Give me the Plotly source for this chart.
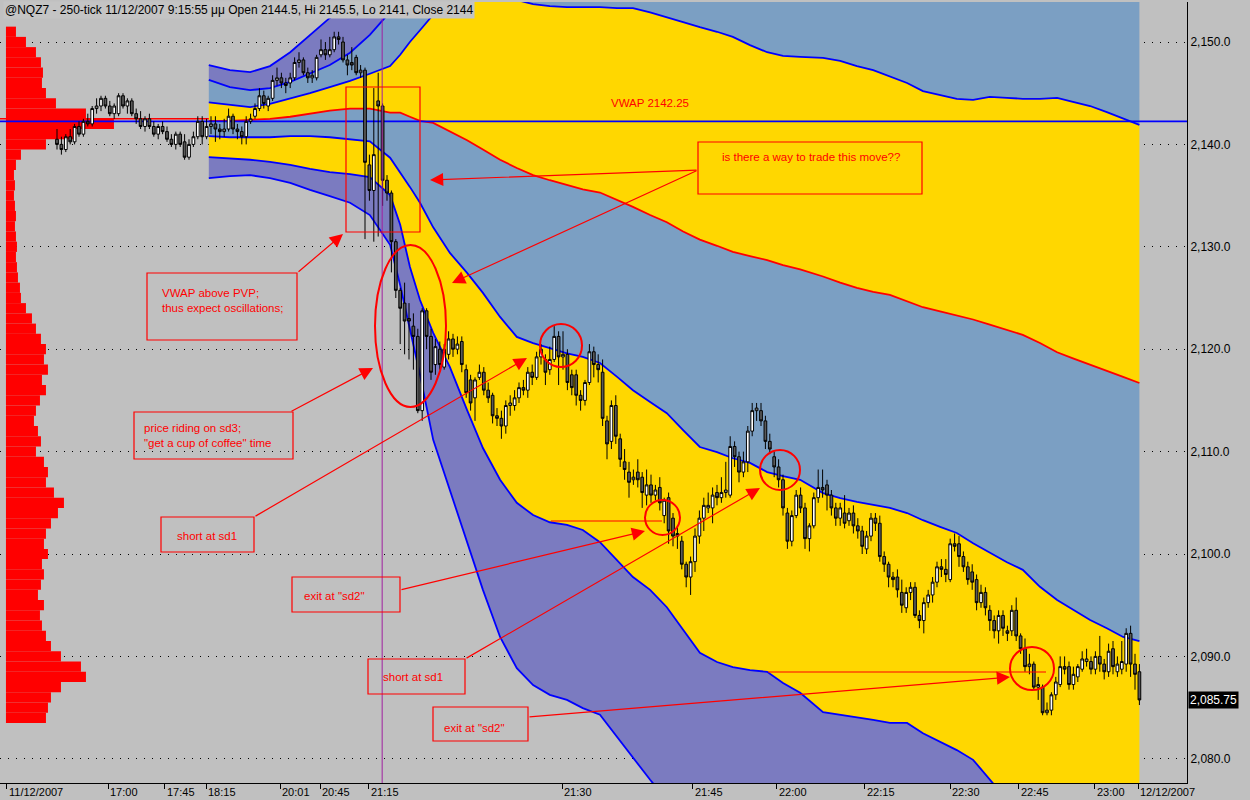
import plotly.graph_objects as go

# ---------------- data ----------------
# 250-tick bars: (open, high, low, close)
ohlc = [
    (2140.5, 2141.5, 2139.5, 2140.0), (2140.0, 2140.75, 2139.0, 2139.5), (2139.5, 2141.0, 2139.25, 2140.75),
    (2140.75, 2141.5, 2140.0, 2140.25), (2140.25, 2142.0, 2140.0, 2141.75), (2141.75, 2142.25, 2140.75, 2141.0),
    (2141.0, 2142.5, 2140.75, 2142.25), (2142.25, 2143.0, 2141.75, 2142.0), (2142.0, 2143.75, 2141.75, 2143.5),
    (2143.5, 2144.5, 2143.0, 2143.75), (2143.75, 2144.75, 2143.25, 2144.5), (2144.5, 2144.75, 2143.5, 2143.75),
    (2143.75, 2144.25, 2142.75, 2143.0), (2143.0, 2144.0, 2142.5, 2143.75), (2143.0, 2145.0, 2142.75, 2144.75),
    (2144.75, 2145.0, 2143.5, 2143.75), (2143.75, 2144.5, 2143.0, 2144.25), (2144.25, 2144.5, 2142.75, 2143.0),
    (2143.0, 2143.5, 2142.0, 2142.5), (2142.5, 2143.25, 2141.5, 2141.75), (2141.75, 2142.75, 2141.25, 2142.5),
    (2142.5, 2143.0, 2141.5, 2141.75), (2141.75, 2142.25, 2140.75, 2141.0), (2141.0, 2142.0, 2140.5, 2141.75),
    (2141.75, 2142.25, 2141.0, 2141.25), (2141.25, 2141.75, 2140.25, 2140.5), (2140.5, 2141.0, 2139.75, 2140.0),
    (2140.0, 2141.25, 2139.5, 2141.0), (2141.0, 2141.25, 2139.75, 2140.0), (2140.25, 2141.0, 2138.5, 2138.75),
    (2138.75, 2140.5, 2138.5, 2140.0), (2140.0, 2141.25, 2139.75, 2140.75), (2140.75, 2142.75, 2140.5, 2142.25),
    (2142.25, 2142.75, 2140.0, 2140.75), (2140.75, 2142.5, 2140.5, 2141.75),
    # session 35..
    (2141.75, 2142.75, 2141.0, 2142.0), (2142.0, 2142.75, 2140.25, 2141.5), (2141.5, 2142.0, 2140.5, 2141.25),
    (2141.25, 2142.5, 2140.75, 2141.5), (2141.5, 2143.5, 2141.25, 2142.75), (2142.75, 2143.0, 2141.0, 2141.5),
    (2141.5, 2142.0, 2140.5, 2141.25), (2141.25, 2141.75, 2140.0, 2140.75), (2140.75, 2142.75, 2140.0, 2142.25),
    (2142.25, 2143.0, 2142.0, 2142.5), (2142.75, 2144.0, 2142.5, 2143.5), (2143.5, 2145.5, 2143.25, 2144.75),
    (2144.75, 2145.25, 2143.5, 2144.0), (2143.75, 2144.75, 2143.25, 2144.5), (2144.5, 2146.75, 2144.25, 2146.25),
    (2146.25, 2147.5, 2145.75, 2146.5), (2146.5, 2147.0, 2145.5, 2146.0), (2146.0, 2146.5, 2145.0, 2145.75),
    (2146.0, 2147.0, 2145.5, 2146.5), (2146.5, 2148.5, 2146.25, 2148.0), (2148.0, 2149.0, 2147.5, 2148.25),
    (2148.25, 2148.5, 2146.75, 2147.0), (2147.0, 2147.5, 2146.0, 2146.5), (2146.5, 2147.25, 2146.0, 2146.75),
    (2146.5, 2148.75, 2146.25, 2148.5), (2148.75, 2150.25, 2148.5, 2149.25), (2149.25, 2150.0, 2148.25, 2148.75),
    (2148.75, 2150.5, 2148.5, 2149.25), (2149.25, 2151.0, 2149.0, 2150.5), (2150.5, 2151.0, 2149.75, 2150.25),
    (2150.0, 2150.5, 2148.0, 2148.25), (2148.25, 2148.75, 2146.75, 2147.75), (2148.0, 2149.5, 2147.25, 2147.75),
    (2148.5, 2148.75, 2146.75, 2147.0), (2147.0, 2147.75, 2146.5, 2147.25),
    # the drop
    (2147.25, 2147.5, 2130.75, 2138.25), (2138.0, 2139.0, 2134.5, 2135.5), (2135.5, 2145.5, 2130.5, 2139.0),
    (2144.25, 2147.0, 2131.0, 2143.75), (2143.75, 2144.0, 2134.0, 2136.5), (2136.5, 2137.0, 2134.5, 2135.25),
    (2135.25, 2135.5, 2127.5, 2130.5), (2130.5, 2130.75, 2125.0, 2125.75), (2125.75, 2126.0, 2120.5, 2124.0),
    (2124.5, 2126.5, 2119.5, 2122.75), (2123.0, 2124.5, 2119.0, 2122.75), (2122.25, 2123.5, 2118.0, 2121.25),
    (2121.25, 2122.0, 2113.75, 2114.0), (2114.0, 2124.0, 2113.0, 2123.75), (2123.75, 2124.0, 2120.0, 2121.25),
    (2121.25, 2122.0, 2117.0, 2117.75), (2118.5, 2121.0, 2117.5, 2120.25), (2120.0, 2120.75, 2118.0, 2118.5),
    (2118.25, 2120.5, 2118.0, 2120.0), (2119.5, 2121.75, 2119.0, 2121.0), (2121.0, 2121.5, 2119.25, 2120.0),
    (2120.0, 2121.25, 2119.5, 2120.5), (2120.75, 2121.25, 2117.75, 2118.5), (2118.0, 2118.5, 2115.25, 2115.75),
    (2117.0, 2117.5, 2114.0, 2114.75), (2115.25, 2117.25, 2113.0, 2117.0), (2117.25, 2118.5, 2117.0, 2117.75),
    (2117.75, 2118.25, 2115.5, 2116.0), (2116.0, 2116.75, 2114.75, 2115.25), (2115.5, 2115.75, 2112.75, 2113.5),
    (2113.5, 2114.25, 2112.5, 2113.25), (2113.25, 2114.0, 2111.25, 2112.5), (2112.5, 2115.0, 2111.75, 2114.5),
    (2114.5, 2115.5, 2113.5, 2114.75), (2114.5, 2116.0, 2114.0, 2115.25), (2115.25, 2116.75, 2114.75, 2116.25),
    (2116.25, 2117.0, 2115.5, 2116.0), (2116.0, 2118.25, 2115.25, 2117.75), (2117.75, 2118.5, 2116.5, 2117.25),
    (2117.25, 2119.75, 2117.0, 2119.25), (2119.25, 2120.5, 2118.5, 2120.0), (2119.0, 2119.5, 2116.5, 2117.75),
    (2118.0, 2120.25, 2117.5, 2119.0), (2119.0, 2122.25, 2118.75, 2121.25), (2121.25, 2121.75, 2116.5, 2119.25),
    (2119.25, 2121.75, 2118.0, 2119.5), (2119.5, 2120.0, 2116.0, 2116.75), (2117.5, 2118.0, 2115.5, 2116.25),
    (2117.5, 2118.0, 2114.5, 2115.5), (2115.5, 2116.0, 2114.0, 2115.0), (2115.0, 2117.0, 2114.5, 2116.75),
    (2116.75, 2120.5, 2116.5, 2119.75), (2119.75, 2120.25, 2117.25, 2118.5), (2118.5, 2119.5, 2116.75, 2118.0),
    (2117.75, 2119.0, 2112.5, 2113.25), (2113.0, 2113.5, 2109.25, 2110.75), (2111.0, 2115.0, 2110.25, 2114.5),
    (2114.5, 2115.5, 2110.75, 2111.5), (2111.25, 2111.75, 2108.5, 2109.25), (2109.0, 2110.25, 2107.25, 2108.25),
    (2108.0, 2109.0, 2105.5, 2107.0), (2107.25, 2108.25, 2106.75, 2107.5), (2108.0, 2109.25, 2106.5, 2107.25),
    (2107.5, 2108.0, 2104.5, 2106.0), (2105.75, 2108.25, 2104.75, 2106.75), (2106.75, 2107.75, 2105.0, 2105.75),
    (2105.75, 2106.75, 2105.25, 2106.25), (2106.5, 2107.5, 2104.25, 2105.0), (2103.75, 2105.5, 2103.0, 2105.25),
    (2105.5, 2106.0, 2101.0, 2102.25), (2103.5, 2104.0, 2100.75, 2101.75), (2101.75, 2102.75, 2100.5, 2102.0),
    (2101.25, 2101.75, 2098.5, 2099.0), (2099.0, 2099.25, 2096.75, 2097.75), (2097.75, 2099.75, 2096.0, 2099.25),
    (2099.25, 2102.5, 2098.25, 2101.75), (2101.75, 2104.25, 2101.0, 2103.5), (2103.5, 2105.5, 2102.25, 2104.75),
    (2104.5, 2106.0, 2104.0, 2104.75), (2104.5, 2106.5, 2103.0, 2105.75), (2106.0, 2106.75, 2104.75, 2105.5),
    (2105.5, 2107.5, 2105.0, 2106.0), (2106.0, 2109.0, 2105.5, 2106.25), (2105.75, 2111.5, 2105.5, 2110.5),
    (2110.5, 2111.0, 2108.5, 2109.5), (2109.5, 2110.0, 2107.0, 2108.0), (2108.0, 2110.0, 2107.5, 2109.0),
    (2109.0, 2112.5, 2108.0, 2112.0), (2112.0, 2114.75, 2111.5, 2114.0), (2114.0, 2114.75, 2113.0, 2114.25),
    (2114.0, 2114.75, 2112.5, 2113.0), (2113.0, 2113.5, 2110.25, 2111.0), (2111.0, 2111.75, 2109.75, 2110.25),
    (2109.5, 2110.0, 2107.5, 2108.5), (2108.5, 2109.25, 2106.5, 2107.25), (2107.25, 2107.75, 2103.75, 2104.5),
    (2104.0, 2104.5, 2100.5, 2101.25), (2101.25, 2104.25, 2100.75, 2103.75), (2103.75, 2106.25, 2103.5, 2105.75),
    (2105.75, 2106.5, 2104.0, 2104.5), (2104.5, 2105.0, 2100.5, 2101.5), (2101.5, 2103.0, 2100.25, 2102.75),
    (2102.75, 2106.0, 2102.5, 2105.5), (2105.5, 2108.25, 2105.0, 2106.5), (2106.5, 2108.25, 2105.5, 2106.25),
    (2106.75, 2107.25, 2104.25, 2105.75), (2105.75, 2106.25, 2103.75, 2104.5), (2104.5, 2105.0, 2102.75, 2103.5),
    (2103.5, 2105.0, 2102.75, 2104.5), (2104.0, 2105.75, 2102.5, 2103.0), (2103.25, 2104.5, 2102.75, 2104.0),
    (2104.0, 2104.75, 2102.0, 2102.75), (2102.75, 2103.5, 2101.5, 2102.25), (2102.25, 2102.75, 2100.0, 2100.75),
    (2100.5, 2102.25, 2100.0, 2101.75), (2101.75, 2104.0, 2101.25, 2103.5), (2103.5, 2104.0, 2102.25, 2103.0),
    (2103.0, 2103.75, 2099.25, 2099.75), (2099.75, 2100.25, 2098.25, 2099.0), (2099.0, 2099.25, 2096.75, 2097.75),
    (2097.75, 2098.25, 2096.75, 2097.5), (2097.75, 2098.5, 2095.75, 2096.5), (2096.25, 2097.5, 2094.25, 2095.0),
    (2094.75, 2096.75, 2094.25, 2096.25), (2096.25, 2097.25, 2095.5, 2096.75), (2096.75, 2097.25, 2093.75, 2094.0),
    (2094.0, 2094.5, 2092.75, 2093.5), (2093.5, 2095.75, 2092.25, 2095.25), (2095.25, 2096.5, 2094.75, 2096.0),
    (2096.0, 2097.75, 2095.25, 2097.25), (2097.25, 2099.25, 2096.75, 2098.75), (2098.75, 2099.5, 2097.75, 2098.5),
    (2098.5, 2099.5, 2097.25, 2098.0), (2097.5, 2101.5, 2097.25, 2101.0), (2101.0, 2102.0, 2100.25, 2100.75),
    (2101.0, 2101.75, 2098.75, 2099.75), (2099.75, 2100.25, 2098.25, 2098.75), (2098.75, 2099.25, 2097.0, 2097.5),
    (2098.25, 2099.0, 2096.5, 2097.25), (2097.5, 2098.0, 2094.5, 2095.25), (2095.25, 2097.0, 2094.75, 2096.25),
    (2096.25, 2096.75, 2094.0, 2094.75), (2094.5, 2095.0, 2092.5, 2093.5), (2093.5, 2094.0, 2091.75, 2092.5),
    (2092.5, 2094.5, 2091.25, 2094.0), (2094.0, 2094.5, 2092.0, 2092.75), (2092.5, 2093.0, 2091.5, 2092.25),
    (2092.5, 2095.0, 2092.0, 2094.5), (2094.5, 2095.75, 2091.5, 2092.0), (2092.0, 2092.25, 2090.25, 2090.75),
    (2090.75, 2091.75, 2088.5, 2089.0), (2089.0, 2090.25, 2088.25, 2089.25), (2089.25, 2089.5, 2086.75, 2087.0),
    (2087.0, 2088.0, 2085.75, 2087.25), (2087.0, 2087.25, 2084.25, 2084.5), (2084.5, 2085.5, 2084.25, 2084.75),
    (2084.75, 2086.5, 2084.25, 2086.25), (2086.25, 2088.0, 2085.75, 2087.5), (2087.25, 2090.0, 2087.0, 2089.0),
    (2089.0, 2090.0, 2088.25, 2088.75), (2089.0, 2089.5, 2086.75, 2087.25), (2087.25, 2089.0, 2086.75, 2088.25),
    (2088.0, 2089.25, 2087.5, 2089.0), (2088.75, 2090.5, 2088.5, 2089.75), (2089.5, 2090.75, 2089.0, 2089.75),
    (2089.5, 2090.0, 2088.25, 2088.75), (2088.75, 2090.5, 2088.25, 2090.0), (2090.0, 2092.0, 2088.5, 2089.25),
    (2089.25, 2089.75, 2087.75, 2088.5), (2088.5, 2091.25, 2088.0, 2090.5), (2090.75, 2091.5, 2088.25, 2089.0),
    (2088.5, 2090.0, 2088.0, 2089.25), (2088.75, 2091.5, 2088.25, 2089.5), (2089.25, 2092.75, 2088.5, 2092.25),
    (2092.25, 2093.0, 2088.0, 2089.25), (2089.25, 2090.25, 2086.75, 2088.25), (2088.5, 2089.25, 2085.25, 2085.75),
]

# VWAP bands sampled at bar positions
band_x = [34.5, 39.3, 43.9, 48.4, 53.0, 57.5, 62.0, 66.6, 71.1, 75.7, 78.0, 80.2, 82.5, 85.5, 89.3, 93.2,
          96.8, 100.7, 104.5, 108.2, 112.0, 115.9, 119.5, 123.4, 127.3, 130.9, 134.8, 138.6, 142.3, 146.1,
          150.0, 153.6, 157.5, 161.4, 165.0, 168.9, 174.1, 178.0, 181.8, 185.5, 189.3, 193.2, 196.8, 200.7,
          204.5, 208.2, 212.0, 215.9, 219.5, 223.4, 227.3, 230.9, 234.8, 238.6, 242.3, 246.0]
vwap = [2142.3, 2142.3, 2142.4, 2142.5, 2142.7, 2143.0, 2143.3, 2143.5, 2143.5, 2143.1, 2143.1, 2142.7, 2142.3,
        2142.1, 2141.3, 2140.4, 2139.5, 2138.5, 2137.7, 2137.0, 2136.5, 2136.0, 2135.6, 2135.3, 2134.6, 2133.9,
        2133.1, 2132.4, 2131.5, 2130.7, 2130.1, 2129.5, 2129.1, 2128.7, 2128.2, 2127.8, 2127.1, 2126.5, 2126.0,
        2125.6, 2125.3, 2124.7, 2124.1, 2123.7, 2123.3, 2122.9, 2122.4, 2121.9, 2121.4, 2120.6, 2119.7, 2119.1,
        2118.5, 2117.9, 2117.3, 2116.7]
upper1 = [2144.1, 2143.85, 2143.65, 2143.95, 2144.45, 2145.0, 2145.6, 2146.2, 2146.9, 2147.65, 2148.75, 2150.0,
          2151.15, 2152.65, 2154.6, 2155.1, 2155.1, 2154.6, 2154.1, 2153.7, 2153.5, 2153.4, 2153.4, 2153.4, 2153.3,
          2153.3, 2152.9, 2152.45, 2151.95, 2151.45, 2151.0, 2150.5, 2149.7, 2149.0, 2148.65, 2148.55, 2148.45,
          2148.15, 2147.65, 2147.25, 2146.6, 2146.0, 2145.2, 2144.8, 2144.45, 2144.35, 2144.65, 2144.55, 2144.45,
          2144.45, 2144.55, 2144.15, 2143.75, 2143.15, 2142.5, 2141.9]
upper2 = [2146.3, 2145.6, 2145.3, 2145.5, 2146.1, 2146.9, 2147.75, 2148.95, 2150.7, 2152.95, 2154.1, 2155.3,
          2156.4, 2157.6, 2158.7, 2159.5, 2160.1, 2160.5, 2160.8, 2161.0, 2161.1, 2161.2, 2161.1, 2161.0, 2160.9,
          2160.8, 2160.6, 2160.3, 2160.0, 2159.6, 2159.2, 2158.9, 2158.6, 2158.3, 2158.1, 2157.9, 2157.7, 2157.5,
          2157.2, 2156.9, 2156.6, 2156.3, 2156.0, 2155.8, 2155.6, 2155.5, 2155.6, 2155.6, 2155.5, 2155.5, 2155.4,
          2155.2, 2155.0, 2154.8, 2154.5, 2154.3]
upper3 = [2147.75, 2147.25, 2147.05, 2147.65, 2149.0, 2150.7, 2152.35, 2153.9, 2155.6, 2157.3, 2158.2, 2159.0,
          2159.8, 2160.8, 2162.0, 2163.0, 2163.8, 2164.4, 2164.8, 2165.1, 2165.3, 2165.4, 2165.4, 2165.3, 2165.2,
          2165.1, 2164.9, 2164.6, 2164.3, 2164.0, 2163.6, 2163.3, 2163.0, 2162.7, 2162.5, 2162.3, 2162.1, 2161.9,
          2161.6, 2161.3, 2161.0, 2160.7, 2160.4, 2160.2, 2160.0, 2159.9, 2160.0, 2160.0, 2159.9, 2159.9, 2159.8,
          2159.6, 2159.4, 2159.2, 2158.9, 2158.7]
lower1 = [2140.8, 2140.7, 2140.7, 2140.7, 2140.8, 2140.8, 2140.7, 2140.5, 2140.3, 2138.7, 2137.3, 2135.85, 2134.3,
          2131.9, 2129.4, 2127.45, 2125.5, 2123.15, 2121.2, 2120.6, 2120.1, 2119.6, 2119.25, 2118.65, 2117.3,
          2116.0, 2114.85, 2113.75, 2112.1, 2110.45, 2109.95, 2109.35, 2108.9, 2108.0, 2107.6, 2107.25, 2105.95,
          2105.45, 2105.1, 2104.8, 2104.5, 2104.0, 2103.3, 2102.65, 2102.05, 2101.05, 2100.1, 2099.2, 2098.45,
          2096.8, 2095.5, 2094.55, 2093.55, 2092.75, 2091.9, 2091.5]
lower2 = [2138.75, 2138.65, 2138.5, 2138.3, 2138.0, 2137.6, 2137.3, 2137.1, 2136.8, 2135.05, 2132.15, 2128.05,
          2124.8, 2121.6, 2118.25, 2114.05, 2110.35, 2107.25, 2105.0, 2103.8, 2103.1, 2102.85, 2102.35, 2101.15,
          2099.4, 2097.75, 2096.5, 2094.8, 2092.6, 2090.35, 2089.45, 2088.95, 2088.65, 2088.5, 2087.4, 2086.45,
          2084.55, 2084.3, 2084.0, 2083.8, 2083.5, 2083.5, 2082.5, 2081.65, 2080.85, 2079.9, 2077.95, 2076.0,
          2074.5, 2073.05, 2071.6, 2070.1, 2069.15, 2068.15, 2067.2, 2066.2]
lower3 = [2136.7, 2136.9, 2137.0, 2136.7, 2136.25, 2135.55, 2134.95, 2134.3, 2133.1, 2130.2, 2126.25, 2121.85,
          2117.5, 2111.15, 2106.25, 2101.35, 2096.5, 2091.9, 2088.85, 2087.2, 2086.25, 2085.75, 2084.95, 2084.3,
          2082.15, 2080.2, 2077.95, 2076.0, 2074.0, 2072.1, 2070.6, 2069.1, 2068.2, 2067.2, 2066.2, 2065.2,
          2064.6, 2064.1, 2063.4, 2062.9, 2062.6, 2062.0, 2061.3, 2060.8, 2060.1, 2059.6, 2059.0, 2058.4,
          2057.9, 2057.2, 2056.6, 2056.1, 2055.5, 2055.0, 2054.4, 2053.9]

pvp_level = 2142.25
prev_vwap = 2142.5

# volume profile (price row -> relative volume)
vp_price = list(range(2151, 2083, -1))
vp_volume = [10, 20, 30, 35, 37, 36, 40, 50, 80, 108, 70, 40, 15, 10, 8, 9, 8, 9, 10, 9, 10, 11, 10, 11, 12,
             14, 15, 20, 26, 30, 35, 40, 38, 42, 36, 40, 34, 30, 28, 32, 35, 30, 38, 42, 40, 48, 58, 52, 45,
             40, 38, 42, 36, 38, 35, 32, 38, 34, 36, 40, 45, 55, 75, 80, 55, 45, 42, 40]

tick_pos = [-11.4, 11.6, 24.5, 33.9, 50.7, 59.8, 70.9, 114.8, 144.5, 163.6, 183.6, 203.0, 218.6, 235.9, 245.7]
tick_text = ["11/12/2007", "17:00", "17:45", "18:15", "20:01", "20:45", "21:15", "21:30", "21:45",
             "22:00", "22:15", "22:30", "22:45", "23:00", "12/12/2007"]
y_ticks = [2080, 2090, 2100, 2110, 2120, 2130, 2140, 2150]
last_price = 2085.75
marker_bar = 73.9

# ---------------- styling ----------------
GRAY = "#C0C0C0"
PURPLE = "#7B7BC0"
STEEL = "#7B9FC3"
GOLD = "#FFD700"
BLUE = "#0000FF"
RED = "#FF0000"
FONT = "Arial, Liberation Sans, sans-serif"

X_RANGE = [-12.9545, 256.818]
Y_RANGE = [2077.637, 2153.906]
PLOT_W, PLOT_H, TOP = 1187.0, 781.0, 2.0
VOL_SCALE = 1 / 4.4
VOL_BASE = -11.6


def px(x):
    return x / PLOT_W


def py(y):
    return 1 - (y - TOP) / PLOT_H


fig = go.Figure()

# volume profile
fig.add_trace(go.Bar(y=vp_price, x=[v * VOL_SCALE for v in vp_volume], base=VOL_BASE, orientation="h",
                     width=1.0, marker=dict(color=RED, line=dict(width=0)), hoverinfo="skip"))

# band fills
fill_seq = [(lower3, None), (lower2, PURPLE), (lower1, GOLD), (vwap, STEEL), (upper1, GOLD),
            (upper2, STEEL), (upper3, PURPLE)]
for vals, col in fill_seq:
    if col is None:
        fig.add_trace(go.Scatter(x=band_x, y=vals, mode="lines", line=dict(width=0), hoverinfo="skip"))
    else:
        fig.add_trace(go.Scatter(x=band_x, y=vals, mode="lines", line=dict(width=0), fill="tonexty",
                                 fillcolor=col, hoverinfo="skip"))

# band lines
for vals in [lower3, lower2, lower1, upper1, upper2, upper3]:
    fig.add_trace(go.Scatter(x=band_x, y=vals, mode="lines", line=dict(color=BLUE, width=1.8),
                             hoverinfo="skip"))
fig.add_trace(go.Scatter(x=[X_RANGE[0], band_x[0]], y=[prev_vwap, prev_vwap], mode="lines",
                         line=dict(color=RED, width=1.5), hoverinfo="skip"))
fig.add_trace(go.Scatter(x=band_x, y=vwap, mode="lines", line=dict(color=RED, width=1.8), hoverinfo="skip"))
fig.add_trace(go.Scatter(x=X_RANGE, y=[pvp_level, pvp_level], mode="lines",
                         line=dict(color=BLUE, width=1.6), hoverinfo="skip"))

# candles on an overlaying subplot so that they sit above the filled bands
fig.add_trace(go.Candlestick(
    x=list(range(len(ohlc))),
    open=[r[0] for r in ohlc], high=[r[1] for r in ohlc],
    low=[r[2] for r in ohlc], close=[r[3] for r in ohlc],
    increasing=dict(fillcolor="white", line=dict(color="black", width=1)),
    decreasing=dict(fillcolor="#5A5A5A", line=dict(color="black", width=1)),
    whiskerwidth=0, hoverinfo="skip", xaxis="x2", yaxis="y2"))

shapes = []
annotations = []

# marker vertical line
shapes.append(dict(type="line", xref="x", yref="paper", x0=marker_bar, x1=marker_bar, y0=0, y1=1,
                   line=dict(color="#A020A0", width=1), layer="above"))

# red frame around the drop
shapes.append(dict(type="rect", xref="paper", yref="paper", x0=px(346), x1=px(420), y0=py(232), y1=py(87),
                   line=dict(color=RED, width=1.2), layer="above"))

# note boxes: (x0, y0, x1, y1, text, text_x, text_y_top)
notes = [
    (698, 142, 922, 194, "is there a way to trade this move??", 720, 149),
    (147, 273, 297, 340, "VWAP above PVP;<br>thus expect oscillations;", 160, 285),
    (134, 412, 293, 459, "price riding on sd3;<br>\"get a cup of coffee\" time", 142, 420),
    (161, 517, 254, 552, "short at sd1", 175, 528),
    (292, 577, 400, 612, "exit at \"sd2\"", 302, 588),
    (368, 659, 465, 694, "short at sd1", 381, 669),
    (433, 707, 528, 741, "exit at \"sd2\"", 442, 720),
]
for x0, y0, x1, y1, txt, tx, ty in notes:
    shapes.append(dict(type="rect", xref="paper", yref="paper", x0=px(x0), x1=px(x1), y0=py(y1), y1=py(y0),
                       line=dict(color=RED, width=1.2), layer="above"))
    annotations.append(dict(xref="paper", yref="paper", x=px(tx), y=py(ty), xanchor="left", yanchor="top",
                            text=txt, showarrow=False, align="left",
                            font=dict(family=FONT, size=11.5, color=RED)))

annotations.append(dict(xref="paper", yref="paper", x=px(609), y=py(103), xanchor="left", yanchor="middle",
                        text="VWAP 2142.25", showarrow=False, font=dict(family=FONT, size=11.5, color=RED)))

# circles
for x0, y0, x1, y1 in [(375, 245, 446, 407), (540, 324, 582, 367), (645, 500, 680, 535),
                       (760, 450, 800, 490), (1010, 647, 1054, 690)]:
    shapes.append(dict(type="circle", xref="paper", yref="paper", x0=px(x0), x1=px(x1), y0=py(y1), y1=py(y0),
                       line=dict(color=RED, width=2), layer="above"))

# plain guide lines
for x0, x1, yy in [(551, 662, 521), (768, 1046, 672)]:
    shapes.append(dict(type="line", xref="paper", yref="paper", x0=px(x0), x1=px(x1), y0=py(yy), y1=py(yy),
                       line=dict(color=RED, width=1.2), layer="above"))

# arrows: (tail_x, tail_y, head_x, head_y)
for tx, ty, hx, hy in [(297, 273, 343, 234), (698, 170, 430, 180), (698, 170, 452, 283),
                       (290, 412, 373, 368), (254, 517, 527, 358), (400, 590, 645, 531),
                       (465, 659, 760, 488), (528, 717, 1010, 677)]:
    annotations.append(dict(xref="paper", yref="paper", x=px(hx), y=py(hy), ax=tx - hx, ay=ty - hy,
                            axref="pixel", ayref="pixel", text="", showarrow=True, arrowhead=2,
                            arrowsize=2.2, arrowwidth=1.2, arrowcolor=RED))

# header
annotations.append(dict(xref="paper", yref="paper", x=px(3), y=py(1), xanchor="left", yanchor="top",
                        text="@NQZ7 - 250-tick 11/12/2007 9:15:55 μμ Open 2144.5, Hi 2145.5, Lo 2141, Close 2144",
                        showarrow=False, bgcolor="#C4C4C4", borderpad=1,
                        font=dict(family=FONT, size=12, color="black")))

# x tick labels (left aligned after tick), kept inside the 17 px bottom band
for pos, lab in zip(tick_pos, tick_text):
    annotations.append(dict(xref="x", yref="paper", x=pos, y=py(799), xanchor="left", yanchor="bottom",
                            xshift=1, borderpad=0, text=lab, showarrow=False,
                            font=dict(family=FONT, size=11, color="black")))

# last price box
annotations.append(dict(xref="paper", yref="y", x=1188 / PLOT_W, y=last_price, xanchor="left",
                        yanchor="middle", text="2,085.75", showarrow=False, bgcolor="black", borderpad=1,
                        font=dict(family=FONT, size=12, color="white")))

fig.update_layout(
    width=1250, height=800,
    margin=dict(l=0, r=63, t=2, b=17),
    paper_bgcolor=GRAY, plot_bgcolor=GRAY,
    showlegend=False, boxgap=0.12,
    shapes=shapes, annotations=annotations,
    xaxis=dict(range=X_RANGE, tickvals=tick_pos, ticks="outside", ticklen=5, tickcolor="black",
               showticklabels=False, showgrid=False, zeroline=False, showline=True, linecolor="black",
               linewidth=1, rangeslider=dict(visible=False), fixedrange=True),
    yaxis=dict(range=Y_RANGE, side="right", tickvals=y_ticks, tickformat=",.1f", ticks="",
               showgrid=True, gridcolor="black", gridwidth=1, griddash="1px,7px", zeroline=False,
               showline=True, linecolor="black", linewidth=1, fixedrange=True,
               tickfont=dict(family=FONT, size=12, color="black")),
    xaxis2=dict(range=X_RANGE, overlaying="x", visible=False, rangeslider=dict(visible=False),
                fixedrange=True),
    yaxis2=dict(range=Y_RANGE, overlaying="y", visible=False, fixedrange=True),
)

# remove the default page margin so the 1250x800 figure fills the window exactly
fig.write_html("out.html", config={"displayModeBar": False},
               post_script="document.body.style.margin='0px';document.body.style.overflow='hidden';")
